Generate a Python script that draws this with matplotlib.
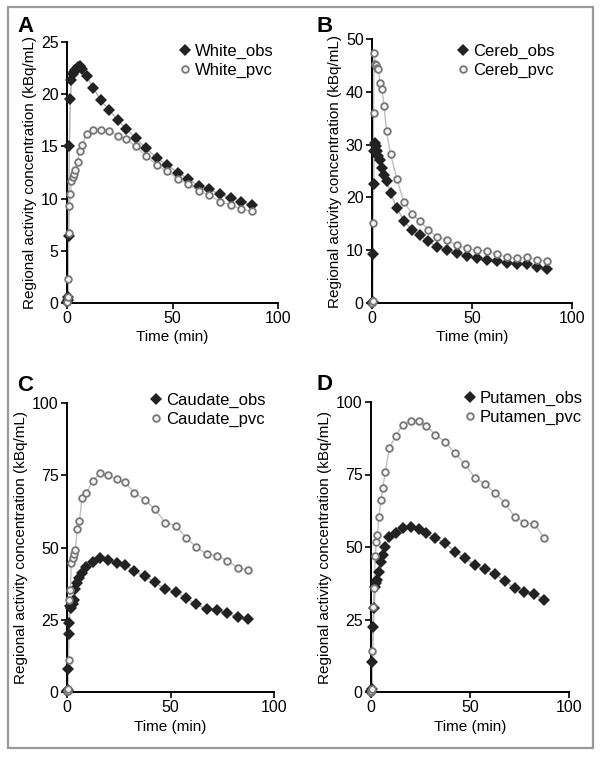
import matplotlib
matplotlib.use("Agg")
import matplotlib.pyplot as plt
from matplotlib.patches import Rectangle

plt.rcParams['font.family'] = ['Liberation Sans', 'DejaVu Sans']

# ---- data ----
time_min = [0, 0.25, 0.5, 0.75, 1.1, 1.6, 2.1, 2.7, 3.2, 4.0, 5.0, 6.0, 7.25, 9.25,
            12.5, 16, 20, 24, 28, 32.5, 37.5, 42.5, 47.5, 52.5, 57.5, 62.5, 67.5,
            72.5, 77.5, 82.5, 87.5]

white_obs = [0.1, 0.3, 0.6, 6.4, 15.0, 19.5, 21.4, 21.9, 22.1, 22.3, 22.6, 22.7, 22.4, 21.7,
             20.6, 19.4, 18.5, 17.5, 16.7, 15.8, 14.8, 13.9, 13.2, 12.5, 11.9, 11.2, 10.9,
             10.4, 10.1, 9.7, 9.4]
white_pvc = [0.1, 0.6, 2.3, 6.7, 9.3, 10.4, 11.7, 12.1, 12.4, 12.7, 13.5, 14.6, 15.1, 16.2,
             16.6, 16.6, 16.5, 16.0, 15.7, 15.0, 14.1, 13.2, 12.6, 11.9, 11.4, 10.7, 10.3,
             9.7, 9.4, 9.0, 8.8]

cereb_obs = [0, 0.2, 9.3, 22.5, 28.7, 30.3, 29.7, 28.7, 27.8, 27.0, 25.6, 24.3, 23.2, 20.8,
             18.0, 15.5, 13.9, 12.8, 11.7, 10.6, 10.0, 9.4, 8.9, 8.5, 8.2, 7.9, 7.6,
             7.3, 7.3, 6.9, 6.5]
cereb_pvc = [0, 0.3, 15.1, 36.0, 47.4, 45.2, 45.1, 44.6, 44.3, 41.6, 40.5, 37.4, 32.6, 28.2,
             23.4, 19.1, 16.9, 15.5, 13.9, 12.5, 11.9, 10.9, 10.4, 10.0, 9.9, 9.2, 8.7,
             8.5, 8.7, 8.2, 7.9]

caudate_obs = [0.2, 0.6, 8.0, 20.1, 23.8, 29.8, 29.2, 30.5, 31.8, 35.5, 37.6, 39.5, 41.3, 43.4,
               44.9, 46.2, 45.7, 44.7, 43.9, 41.8, 40.2, 37.9, 35.6, 34.7, 32.4, 30.3, 28.7,
               28.3, 27.2, 26.0, 25.1]
caudate_pvc = [0.2, 0.5, 1.2, 11.2, 31.8, 35.3, 44.5, 46.2, 47.6, 49.1, 56.3, 59.0, 67.1, 68.8,
               73.1, 75.7, 75.0, 73.6, 72.5, 69.0, 66.5, 63.2, 58.6, 57.6, 53.4, 50.1, 47.6,
               47.2, 45.4, 43.0, 42.2]

putamen_obs = [0, 0.3, 1.0, 10.2, 22.5, 28.9, 36.3, 37.5, 38.6, 41.5, 45.0, 47.2, 50.1, 53.6,
               55.0, 56.4, 57.0, 56.2, 54.7, 53.0, 51.3, 48.4, 46.1, 43.8, 42.3, 40.6, 38.4,
               35.8, 34.6, 33.8, 31.7]
putamen_pvc = [0, 0.3, 1.0, 14.1, 29.2, 36.0, 46.9, 51.6, 54.1, 60.5, 66.2, 70.5, 76.0, 84.0,
               88.3, 92.2, 93.4, 93.6, 91.7, 88.7, 86.2, 82.3, 78.5, 73.9, 71.7, 68.7, 65.3,
               60.4, 58.4, 57.9, 53.2]

panels = [
    dict(letter='A', names=('White_obs', 'White_pvc'), obs=white_obs, pvc=white_pvc,
         ymax=25, yticks=[0, 5, 10, 15, 20, 25]),
    dict(letter='B', names=('Cereb_obs', 'Cereb_pvc'), obs=cereb_obs, pvc=cereb_pvc,
         ymax=50, yticks=[0, 10, 20, 30, 40, 50]),
    dict(letter='C', names=('Caudate_obs', 'Caudate_pvc'), obs=caudate_obs, pvc=caudate_pvc,
         ymax=100, yticks=[0, 25, 50, 75, 100]),
    dict(letter='D', names=('Putamen_obs', 'Putamen_pvc'), obs=putamen_obs, pvc=putamen_pvc,
         ymax=100, yticks=[0, 25, 50, 75, 100]),
]
xticks = [0, 50, 100]

# ---- layout (pixels) ----
W, H = 601, 757
fig = plt.figure(figsize=(W / 100, H / 100), dpi=100)

# axes boxes: left, right, bottom, top in pixel coords (top-left origin)
boxes = [(67, 278, 303, 42), (372, 572, 303, 39), (67, 274, 692, 403), (371, 569, 692, 402)]
legend_pos = [(179, 44), (457, 44), (150, 393), (464, 391)]
letter_pos = [(17, 26), (316, 26), (17, 386), (317, 384)]

# outer border
fig.patches.append(Rectangle((8 / W, 1 - 748 / H), (593 - 8) / W, (748 - 7) / H,
                             transform=fig.transFigure, fill=False,
                             edgecolor='#9a9a9a', linewidth=1.6))

fs_tick = 11.5
fs_label = 11.0
fs_leg = 12.0
for p, (l, r, b, t), (lx, ly), (tx, ty) in zip(panels, boxes, legend_pos, letter_pos):
    ax = fig.add_axes([l / W, 1 - b / H, (r - l) / W, (b - t) / H])
    ax.plot(time_min, p['obs'], '-', color='#b0b0b0', lw=1.0, zorder=2, clip_on=False)
    ax.plot(time_min, p['pvc'], '-', color='#c0c0c0', lw=1.0, zorder=2, clip_on=False)
    ax.plot(time_min, p['obs'], 'D', color='#222222', markersize=6.6, mew=0,
            label=p['names'][0], zorder=4, clip_on=False, linestyle='none')
    ax.plot(time_min, p['pvc'], 'o', markerfacecolor='#f4f4f4', markeredgecolor='#777777',
            markersize=4.8, mew=1.3, label=p['names'][1], zorder=5, clip_on=False,
            linestyle='none')
    ax.set_xlim(0, 100)
    ax.set_ylim(0, p['ymax'])
    ax.set_xticks(xticks)
    ax.set_yticks(p['yticks'])
    for s in ('top', 'right'):
        ax.spines[s].set_visible(False)
    for s in ('left', 'bottom'):
        ax.spines[s].set_linewidth(1.4)
        ax.spines[s].set_color('black')
    ax.tick_params(direction='out', length=4, width=1.2, labelsize=fs_tick, pad=2,
                   colors='black')
    ax.set_xlabel('Time (min)', fontsize=fs_label, labelpad=3)
    ax.set_ylabel('Regional activity concentration (kBq/mL)', fontsize=fs_label, labelpad=3)
    ax.legend(loc='upper left', bbox_to_anchor=(lx / W, 1 - ly / H),
              bbox_transform=fig.transFigure, frameon=False, fontsize=fs_leg,
              borderpad=0, borderaxespad=0, handlelength=0.7, handletextpad=0.25,
              labelspacing=0.2)
    fig.text(tx / W, 1 - ty / H, p['letter'], fontsize=16, fontweight='bold',
             ha='left', va='center')

fig.savefig('out.png', dpi=100)
